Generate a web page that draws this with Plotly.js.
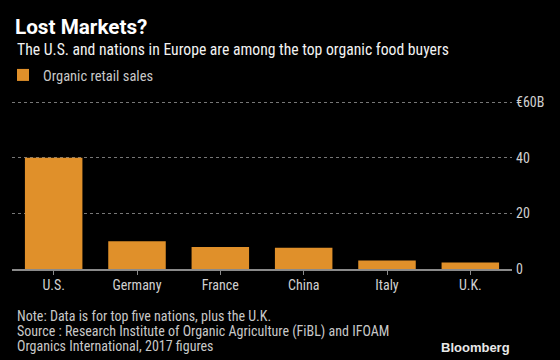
<!DOCTYPE html>
<html>
<head>
<meta charset="utf-8">
<script src="https://cdn.plot.ly/plotly-3.0.1.min.js"></script>
<style>html,body{margin:0;padding:0;background:#000;}#chart{width:560px;height:360px;}</style>
</head>
<body>
<div id="chart"></div>
<script>
const countries = ["U.S.", "Germany", "France", "China", "Italy", "U.K."];
const sales = [40.0, 10.0, 7.9, 7.6, 3.1, 2.3];
const tickVals = [0, 20, 40, 60];
const tickLabels = ["0", "20", "40", "€60B"];
const seriesName = "Organic retail sales";

const W = 560, H = 360;
const plotL = 12, plotR = 512, plotT = 101, plotB = 269;
const px = x => (x - plotL) / (plotR - plotL);
const py = y => (plotB - y) / (plotB - plotT);
const FONT = "'Liberation Sans Narrow', 'Roboto Condensed', 'DejaVu Sans Condensed', Roboto, sans-serif";

const data = [{
  type: "bar",
  x: countries,
  y: sales,
  name: seriesName,
  marker: {color: "#e0902a"},
  hoverinfo: "none"
}];

const layout = {
  width: W, height: H,
  paper_bgcolor: "#000", plot_bgcolor: "#000",
  margin: {l: plotL, r: W - plotR, t: plotT, b: H - plotB, pad: 0, autoexpand: false},
  font: {family: FONT, color: "#d0d0d0", size: 14},
  title: {
    text: "<b>Lost Markets?</b>",
    font: {family: "Roboto, sans-serif", size: 20.7, color: "#ffffff"},
    xref: "container", yref: "container",
    x: 15 / W, xanchor: "left", y: 1 - 27 / H, yanchor: "middle"
  },
  bargap: 0.31,
  showlegend: true,
  legend: {
    xref: "container", yref: "container",
    x: 3 / W, xanchor: "left", y: 1 - 75 / H, yanchor: "middle",
    font: {family: FONT, size: 14.5, color: "#c8c8c8"},
    bgcolor: "rgba(0,0,0,0)", itemwidth: 30
  },
  xaxis: {
    type: "category", automargin: false,
    showgrid: false,
    showline: true, linecolor: "#8a8a8a", linewidth: 2,
    ticks: "outside", ticklen: 4, tickcolor: "#8a8a8a", tickwidth: 1,
    ticklabelstandoff: -2,
    tickfont: {family: FONT, size: 14, color: "#d0d0d0"},
    zeroline: false, fixedrange: true
  },
  yaxis: {
    side: "right", automargin: false,
    range: [0, 60.4],
    tickmode: "array", tickvals: tickVals, ticktext: tickLabels,
    showgrid: true, gridcolor: "#777", griddash: "dot", gridwidth: 1,
    zeroline: false, showline: false, ticks: "",
    ticklabelstandoff: 3,
    tickfont: {family: FONT, size: 14, color: "#d0d0d0"},
    fixedrange: true
  },
  annotations: [
    {text: "The U.S. and nations in Europe are among the top organic food buyers",
     xref: "paper", yref: "paper", x: px(15), y: py(50), xanchor: "left", yanchor: "middle",
     showarrow: false, font: {family: FONT, size: 15.7, color: "#f2f2f2"}},
    {text: "Note: Data is for top five nations, plus the U.K.",
     xref: "paper", yref: "paper", x: px(15), y: py(316), xanchor: "left", yanchor: "middle",
     showarrow: false, font: {family: FONT, size: 14, color: "#c8c8c8"}},
    {text: "Source : Research Institute of Organic Agriculture (FiBL) and IFOAM",
     xref: "paper", yref: "paper", x: px(15), y: py(331), xanchor: "left", yanchor: "middle",
     showarrow: false, font: {family: FONT, size: 14, color: "#c8c8c8"}},
    {text: "Organics International, 2017 figures",
     xref: "paper", yref: "paper", x: px(15), y: py(346), xanchor: "left", yanchor: "middle",
     showarrow: false, font: {family: FONT, size: 14, color: "#c8c8c8"}},
    {text: "<b>Bloomberg</b>",
     xref: "paper", yref: "paper", x: px(512), y: py(347), xanchor: "right", yanchor: "middle",
     showarrow: false, font: {family: "'Liberation Sans', Arial, sans-serif", size: 13, color: "#e8e8e8"}}
  ]
};

Plotly.newPlot("chart", data, layout, {displayModeBar: false, staticPlot: true});
</script>
</body>
</html>
